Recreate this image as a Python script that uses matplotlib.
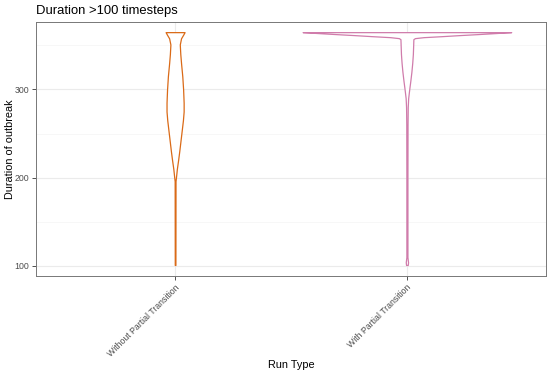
import numpy as np
import matplotlib
matplotlib.use("Agg")
import matplotlib.pyplot as plt
from matplotlib.ticker import MultipleLocator

# categories and violin outlines (relative half-width vs duration)
run_types = ["Without Partial Transition", "With Partial Transition"]
colors = ["#DA6A17", "#D07CAB"]

without_y = [365, 362, 358, 351, 340, 330, 315, 300, 285, 275, 265, 255, 243,
             230, 220, 210, 200, 196, 101]
without_w = [0.091, 0.077, 0.057, 0.045, 0.050, 0.057, 0.069, 0.077, 0.082,
             0.082, 0.075, 0.065, 0.053, 0.040, 0.029, 0.017, 0.008, 0.004, 0.003]

with_y = [365, 363.8, 362.7, 361.6, 360.4, 359.3, 358.2, 357, 350, 340, 330,
          320, 310, 300, 290, 280, 260, 200, 110, 104, 101]
with_w = [1.0, 0.83, 0.67, 0.50, 0.33, 0.16, 0.077, 0.062, 0.060, 0.057, 0.051,
          0.043, 0.033, 0.022, 0.012, 0.008, 0.006, 0.005, 0.005, 0.011, 0.008]

profiles = [(without_y, without_w), (with_y, with_w)]

plt.rcParams["font.family"] = ["Liberation Sans", "DejaVu Sans"]

fig = plt.figure(figsize=(5.5, 3.74), dpi=100)
ax = fig.add_axes([36 / 550, 1 - 276 / 374, 510 / 550, 254 / 374])

max_half = 0.45  # ggplot violin width 0.9
for i, ((ys, ws), col) in enumerate(zip(profiles, colors)):
    pos = i + 1
    ys = np.asarray(ys, float)
    hw = np.asarray(ws, float) * max_half
    ax.fill_betweenx(ys, pos - hw, pos + hw, facecolor="white",
                     edgecolor=col, linewidth=0.9, zorder=3)

ax.set_xlim(0.4, 2.6)
ax.set_ylim(88.5, 376.5)
ax.set_xticks([1, 2])
ax.set_xticklabels(run_types, rotation=45, ha="right", va="top",
                   rotation_mode="anchor")
ax.yaxis.set_major_locator(MultipleLocator(100))
ax.yaxis.set_minor_locator(MultipleLocator(50))
ax.tick_params(axis="both", which="major", labelsize=6.3, colors="#333333",
               labelcolor="#4D4D4D", length=3, width=0.6, pad=2)
ax.tick_params(axis="y", which="minor", length=0)

ax.grid(True, which="major", color="#EBEBEB", lw=0.8, zorder=0)
ax.grid(True, which="minor", axis="y", color="#F4F4F4", lw=0.5, zorder=0)
ax.set_axisbelow(True)
for s in ax.spines.values():
    s.set_color("#777777")
    s.set_linewidth(0.7)

ax.set_title("Duration >100 timesteps", loc="left", fontsize=9.4, pad=6)
ax.set_xlabel("Run Type", fontsize=7.8)
ax.set_ylabel("Duration of outbreak", fontsize=7.8)
ax.xaxis.set_label_coords(0.5, -0.33)
ax.yaxis.set_label_coords(-0.042, 0.5)

fig.savefig("out.png", dpi=100)
plt.close(fig)
